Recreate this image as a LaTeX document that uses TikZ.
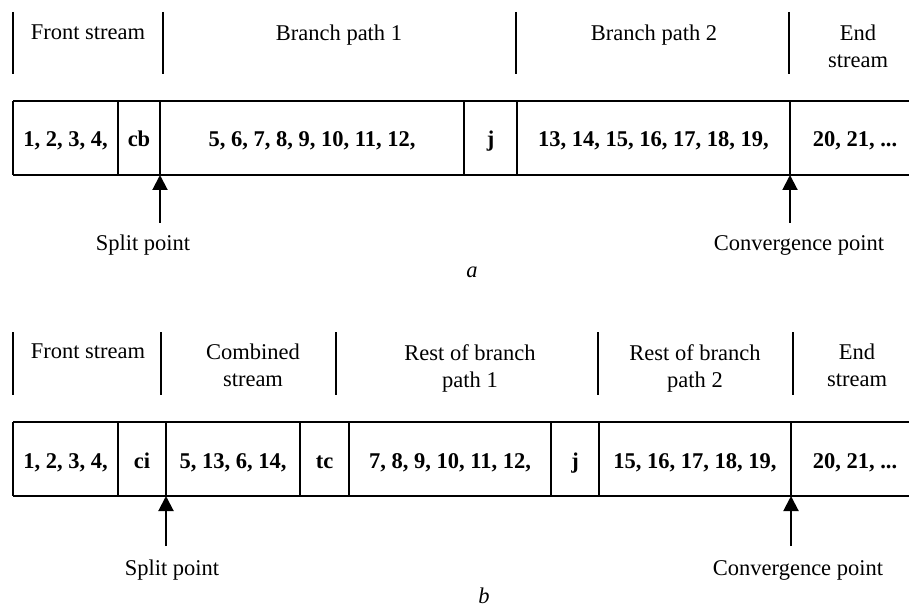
\documentclass[tikz,border=0pt]{standalone}
\usepackage{fontspec}
\setmainfont{Liberation Serif}
\usetikzlibrary{arrows.meta}

\newcommand{\lblsize}{\fontsize{22.5}{27}\selectfont}

\tikzset{
  rule/.style={line width=2pt},
  ptr/.style={line width=2pt, -{Triangle[length=15pt,width=15pt]}},
  headlbl/.style={anchor=north, align=center, inner sep=0pt, font=\lblsize},
  cell/.style={anchor=base, inner sep=0pt, font=\lblsize\bfseries},
  note/.style={anchor=base, inner sep=0pt, font=\lblsize},
}

\begin{document}
\begin{tikzpicture}[x=1pt, y=-1pt]

    % Fix the page to the size of the reference
    \useasboundingbox (0,0) rectangle (909,609);

    % ---------------- part a ----------------

    % Header separators
    \draw[rule] (13,12) -- (13,74);
    \draw[rule] (163,12) -- (163,74);
    \draw[rule] (516,12) -- (516,74);
    \draw[rule] (789,12) -- (789,74);

    % Header labels
    \node[headlbl] (hfrontA) at (88,24.5) {Front stream};
    \node[headlbl] (hbranchA1) at (339,24.5) {Branch path 1};
    \node[headlbl] (hbranchA2) at (654,24.5) {Branch path 2};
    \node[headlbl] (hendA) at (858,24.5) {End\\stream};

    % The stream box (open on the right)
    \draw[rule] (13,101) -- (909,101);
    \draw[rule] (13,175) -- (909,175);
    \draw[rule] (13,101) -- (13,175);
    \draw[rule] (118,101) -- (118,175);
    \draw[rule] (160,101) -- (160,175);
    \draw[rule] (464,101) -- (464,175);
    \draw[rule] (517,101) -- (517,175);
    \draw[rule] (790,101) -- (790,175);

    % Stream contents
    \node[cell] (frontA) at (65.5,147) {1, 2, 3, 4,};
    \node[cell] (cb) at (139,147) {cb};
    \node[cell] (pathA1) at (312,147) {5, 6, 7, 8, 9, 10, 11, 12,};
    \node[cell] (jA) at (490.5,147) {j};
    \node[cell] (pathA2) at (653.5,147) {13, 14, 15, 16, 17, 18, 19,};
    \node[cell] (endA) at (855,147) {20, 21, ...};

    % Split and convergence points
    \coordinate (splitTopA) at (160,175);
    \coordinate (splitTailA) at (160,223);
    \coordinate (convTopA) at (790,175);
    \coordinate (convTailA) at (790,223);
    \draw[ptr] (splitTailA) -- (splitTopA);
    \draw[ptr] (convTailA) -- (convTopA);
    \node[note] (splitA) at (143,251) {Split point};
    \node[note] (convA) at (799,251) {Convergence point};

    % Caption
    \node[note] (capA) at (472,278) {\itshape a};

    % ---------------- part b ----------------

    % Header separators
    \draw[rule] (13,332) -- (13,395);
    \draw[rule] (161,332) -- (161,395);
    \draw[rule] (336,332) -- (336,395);
    \draw[rule] (598,332) -- (598,395);
    \draw[rule] (793,332) -- (793,395);

    % Header labels
    \node[headlbl] (hfrontB) at (88,344) {Front stream};
    \node[headlbl] (hcombB) at (253,344) {Combined\\stream};
    \node[headlbl] (hrestB1) at (470,344) {Rest of branch\\path 1};
    \node[headlbl] (hrestB2) at (695,344) {Rest of branch\\path 2};
    \node[headlbl] (hendB) at (857,344) {End\\stream};

    % The stream box (open on the right)
    \draw[rule] (13,422) -- (909,422);
    \draw[rule] (13,496) -- (909,496);
    \draw[rule] (13,422) -- (13,496);
    \draw[rule] (118,422) -- (118,496);
    \draw[rule] (166,422) -- (166,496);
    \draw[rule] (300,422) -- (300,496);
    \draw[rule] (349,422) -- (349,496);
    \draw[rule] (551,422) -- (551,496);
    \draw[rule] (599,422) -- (599,496);
    \draw[rule] (791,422) -- (791,496);

    % Stream contents
    \node[cell] (frontB) at (65.5,468) {1, 2, 3, 4,};
    \node[cell] (ci) at (142,468) {ci};
    \node[cell] (combB) at (233,468) {5, 13, 6, 14,};
    \node[cell] (tc) at (324.5,468) {tc};
    \node[cell] (restB1) at (450,468) {7, 8, 9, 10, 11, 12,};
    \node[cell] (jB) at (575,468) {j};
    \node[cell] (restB2) at (695,468) {15, 16, 17, 18, 19,};
    \node[cell] (endB) at (855,468) {20, 21, ...};

    % Split and convergence points
    \coordinate (splitTopB) at (166,496);
    \coordinate (splitTailB) at (166,546);
    \coordinate (convTopB) at (791,496);
    \coordinate (convTailB) at (791,546);
    \draw[ptr] (splitTailB) -- (splitTopB);
    \draw[ptr] (convTailB) -- (convTopB);
    \node[note] (splitB) at (172,575) {Split point};
    \node[note] (convB) at (798,575) {Convergence point};

    % Caption
    \node[note] (capB) at (484,603) {\itshape b};

\end{tikzpicture}
\end{document}
